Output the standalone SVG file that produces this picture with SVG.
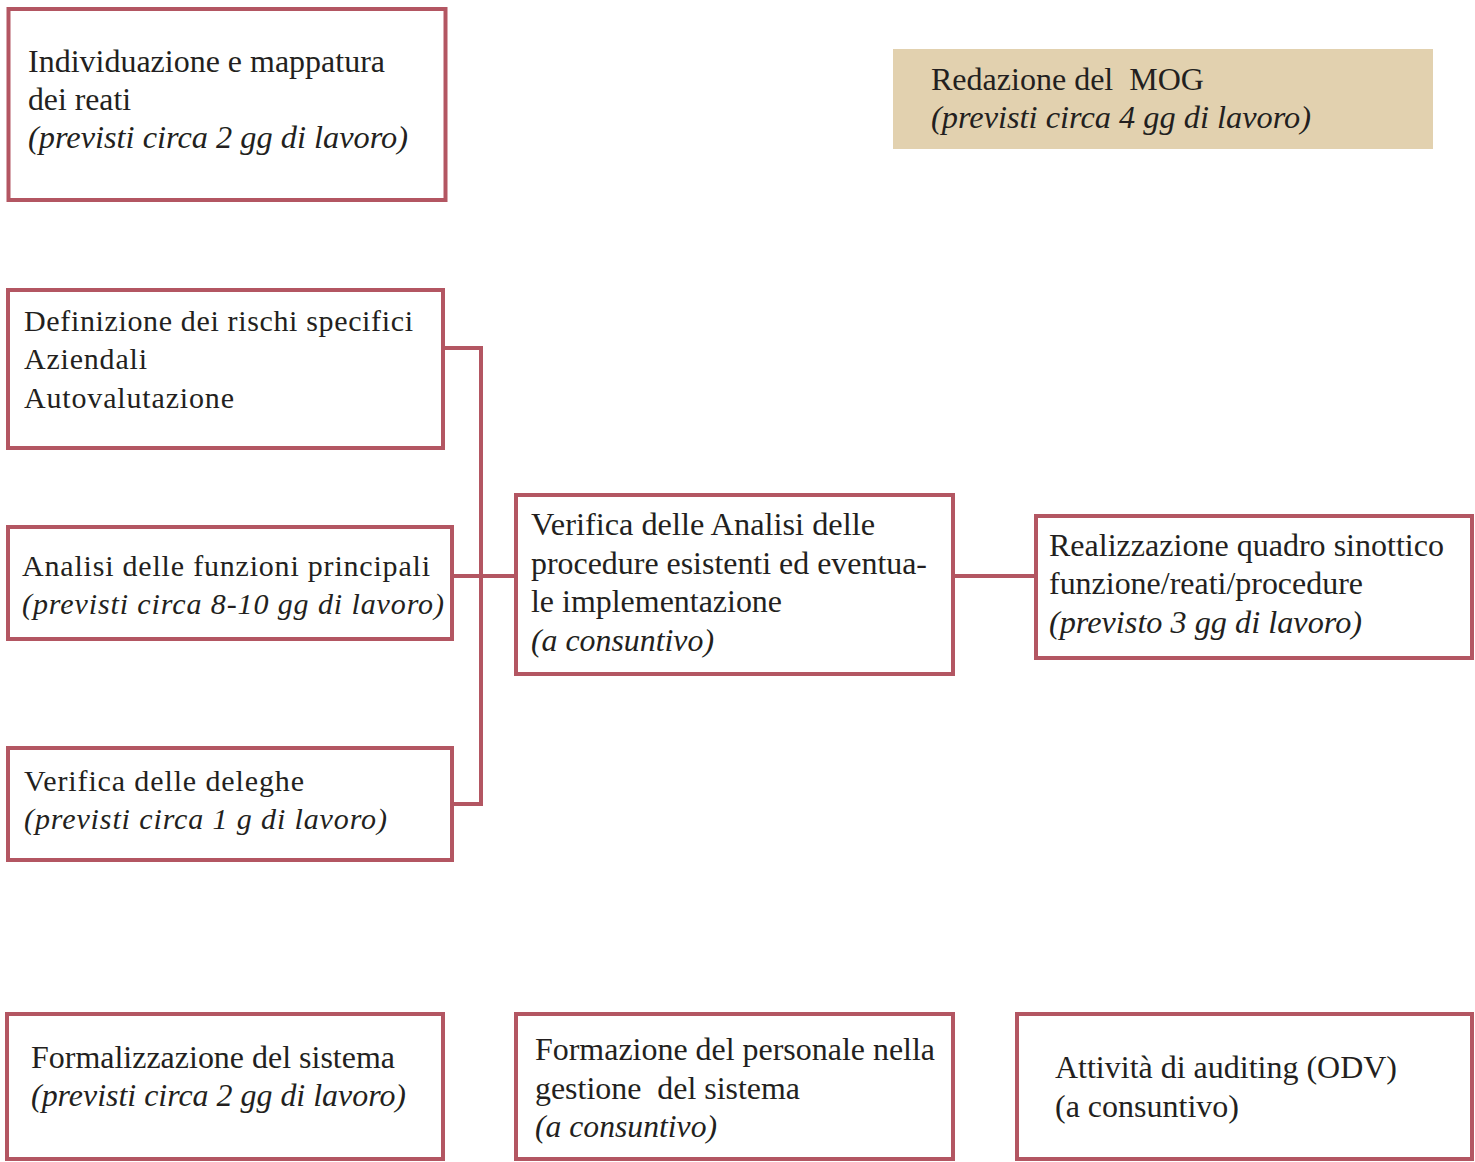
<svg xmlns="http://www.w3.org/2000/svg" width="1475" height="1162" viewBox="0 0 1475 1162">
<style>
.box{fill:#fff;stroke:#B35662;stroke-width:4}
.mog{fill:#E2D1AF;stroke:none}
.con{fill:none;stroke:#B35662;stroke-width:4}
text{font-family:"Liberation Serif","Times New Roman",serif;font-size:32px;fill:#231F20}
.s{font-size:30px}
.i{font-style:italic}
</style>
<rect width="1475" height="1162" fill="#fff"/>
<g id="connectors">
<path class="con" d="M443 348 H481 V804 H452"/>
<path class="con" d="M452 576 H516"/>
<path class="con" d="M953 576 H1036"/>
</g>
<g id="n1">
<rect class="box" x="8.5" y="9" width="437" height="191"/>
<text x="28" y="72" textLength="357" lengthAdjust="spacingAndGlyphs">Individuazione e mappatura</text>
<text x="28" y="110" textLength="103" lengthAdjust="spacingAndGlyphs">dei reati</text>
<text class="i" x="28" y="148" textLength="380" lengthAdjust="spacingAndGlyphs">(previsti circa 2 gg di lavoro)</text>
</g>
<g id="n2">
<rect class="mog" x="893" y="49" width="540" height="100"/>
<text x="931" y="90" xml:space="preserve" textLength="273" lengthAdjust="spacingAndGlyphs">Redazione del  MOG</text>
<text class="i" x="931" y="128" textLength="380" lengthAdjust="spacingAndGlyphs">(previsti circa 4 gg di lavoro)</text>
</g>
<g id="n3">
<rect class="box" x="8" y="290" width="435" height="158"/>
<text class="s" x="24" y="331" textLength="389" lengthAdjust="spacing">Definizione dei rischi specifici</text>
<text class="s" x="24" y="369" textLength="123" lengthAdjust="spacing">Aziendali</text>
<text class="s" x="24" y="408" textLength="210" lengthAdjust="spacing">Autovalutazione</text>
</g>
<g id="n4">
<rect class="box" x="8" y="527" width="444" height="112"/>
<text class="s" x="22" y="576" textLength="408" lengthAdjust="spacing">Analisi delle funzioni principali</text>
<text class="s i" x="22" y="614" textLength="422" lengthAdjust="spacing">(previsti circa 8-10 gg di lavoro)</text>
</g>
<g id="n5">
<rect class="box" x="8" y="748" width="444" height="112"/>
<text class="s" x="24" y="791" textLength="280" lengthAdjust="spacing">Verifica delle deleghe</text>
<text class="s i" x="24" y="829" textLength="363" lengthAdjust="spacing">(previsti circa 1 g di lavoro)</text>
</g>
<g id="n6">
<rect class="box" x="516" y="495" width="437" height="179"/>
<text x="531" y="535" textLength="344" lengthAdjust="spacingAndGlyphs">Verifica delle Analisi delle</text>
<text x="531" y="574" textLength="396" lengthAdjust="spacingAndGlyphs">procedure esistenti ed eventua-</text>
<text x="531" y="612" textLength="251" lengthAdjust="spacingAndGlyphs">le implementazione</text>
<text class="i" x="531" y="651" textLength="183" lengthAdjust="spacingAndGlyphs">(a consuntivo)</text>
</g>
<g id="n7">
<rect class="box" x="1036" y="516" width="436" height="142"/>
<text x="1049" y="556" textLength="395" lengthAdjust="spacingAndGlyphs">Realizzazione quadro sinottico</text>
<text x="1049" y="594" textLength="314" lengthAdjust="spacingAndGlyphs">funzione/reati/procedure</text>
<text class="i" x="1049" y="633" textLength="313" lengthAdjust="spacingAndGlyphs">(previsto 3 gg di lavoro)</text>
</g>
<g id="n8">
<rect class="box" x="7" y="1014" width="436" height="145"/>
<text x="31" y="1068" textLength="364" lengthAdjust="spacingAndGlyphs">Formalizzazione del sistema</text>
<text class="i" x="31" y="1106" textLength="375" lengthAdjust="spacingAndGlyphs">(previsti circa 2 gg di lavoro)</text>
</g>
<g id="n9">
<rect class="box" x="516" y="1014" width="437" height="145"/>
<text x="535" y="1060" textLength="400" lengthAdjust="spacingAndGlyphs">Formazione del personale nella</text>
<text x="535" y="1099" xml:space="preserve" textLength="265" lengthAdjust="spacingAndGlyphs">gestione  del sistema</text>
<text class="i" x="535" y="1137" textLength="182" lengthAdjust="spacingAndGlyphs">(a consuntivo)</text>
</g>
<g id="n10">
<rect class="box" x="1017" y="1014" width="455" height="145"/>
<text x="1055" y="1078" textLength="342" lengthAdjust="spacingAndGlyphs">Attività di auditing (ODV)</text>
<text x="1055" y="1117" textLength="184" lengthAdjust="spacingAndGlyphs">(a consuntivo)</text>
</g>
</svg>
